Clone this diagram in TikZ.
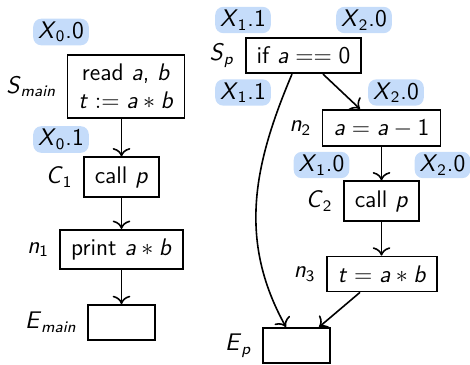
\documentclass[tikz,border=0pt]{standalone}
\usepackage{amsmath}
\usepackage{xcolor}
\usetikzlibrary{arrows.meta,positioning,calc}
\definecolor{tagblue}{RGB}{197,220,250}
\newcommand{\vr}[1]{\textsl{#1}}
\newcommand{\sub}[1]{$_{\text{#1}}$}

\begin{document}
\begin{tikzpicture}[
    x=0.5pt, y=0.5pt, >={To[scale=1.25]},
    font=\sffamily\fontsize{12}{14}\selectfont,
    stmtbox/.style={draw, line width=0.9pt, inner xsep=5.5pt, inner ysep=4.5pt, align=center},
    exitbox/.style={draw, line width=0.9pt, minimum width=33.5pt, minimum height=17.5pt},
    tagnode/.style={fill=tagblue, rounded corners=4pt, inner xsep=2.5pt, inner ysep=1.5pt},
    namenode/.style={inner sep=0pt}
]
\useasboundingbox (0,0) rectangle (470,-364);

% procedure main
\node[stmtbox] (Smain) at (126,-86.5) {read \vr{a}, \vr{b}\\\vr{t}${}:={}$\vr{a}${}*{}$\vr{b}};
\node[stmtbox] (C1) at (121.5,-177) {call \vr{p}};
\node[stmtbox] (n1) at (121.5,-249.5) {print \vr{a}${}*{}$\vr{b}};
\node[exitbox] (Emain) at (121.5,-322.5) {};

\node[namenode, left=5pt of Smain] (Smainname) {\vr{S}\sub{\vr{main}}};
\node[namenode, left=5pt of C1] (C1name) {\vr{C}\sub{1}};
\node[namenode, left=5pt of n1] (n1name) {\vr{n}\sub{1}};
\node[namenode, left=5pt of Emain] (Emainname) {\vr{E}\sub{\vr{main}}};

\node[tagnode] (X00) at (61,-32) {\vr{X}\sub{0}.0};
\node[tagnode] (X01) at (61,-139.5) {\vr{X}\sub{0}.1};

% procedure p
\node[stmtbox] (Sp) at (303.5,-55.5) {if \vr{a}${}=={}$0};
\node[stmtbox] (n2) at (381.5,-128) {\vr{a}${}={}$\vr{a}${}-{}$1};
\node[stmtbox] (C2) at (381.5,-201) {call \vr{p}};
\node[stmtbox] (n3) at (382,-274) {\vr{t}${}={}$\vr{a}${}*{}$\vr{b}};
\node[exitbox] (Ep) at (296.5,-345.5) {};

\node[namenode, left=5pt of Sp] (Spname) {\vr{S}\sub{\vr{p}}};
\node[namenode, left=5pt of n2] (n2name) {\vr{n}\sub{2}};
\node[namenode, left=5pt of C2] (C2name) {\vr{C}\sub{2}};
\node[namenode, left=5pt of n3] (n3name) {\vr{n}\sub{3}};
\node[namenode, left=5pt of Ep] (Epname) {\vr{E}\sub{\vr{p}}};

\node[tagnode] (X11top) at (243,-20) {\vr{X}\sub{1}.1};
\node[tagnode] (X20top) at (364,-20) {\vr{X}\sub{2}.0};
\node[tagnode] (X11mid) at (243,-92.5) {\vr{X}\sub{1}.1};
\node[tagnode] (X20mid) at (396,-92.5) {\vr{X}\sub{2}.0};
\node[tagnode] (X10low) at (321.5,-165) {\vr{X}\sub{1}.0};
\node[tagnode] (X20low) at (442.5,-165) {\vr{X}\sub{2}.0};

% edges
\draw[->, thick] (Smain.south -| C1.north) -- (C1.north);
\draw[->, thick] (C1) -- (n1);
\draw[->, thick] (n1) -- (Emain);

\draw[->, thick] ($(Sp.south)+(19.5,0)$) -- ($(n2.north)+(-21.5,0)$);
\draw[->, thick] ($(Sp.south)+(-11.5,0)$) to[out=247, in=119] ($(Ep.north)+(-10.5,0)$);
\draw[->, thick] (n2) -- (C2);
\draw[->, thick] (C2.south) -- (C2.south |- n3.north);
\draw[->, thick] ($(n3.south)+(-22,0)$) -- ($(Ep.north)+(22.5,0)$);
\end{tikzpicture}
\end{document}
